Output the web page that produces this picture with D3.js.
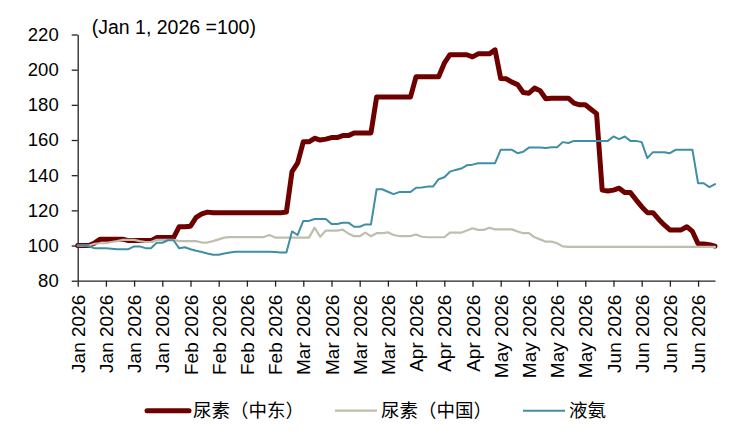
<!DOCTYPE html>
<html>
<head>
<meta charset="utf-8">
<script src="https://cdn.jsdelivr.net/npm/d3@7"></script>
<style>
  body { margin: 0; background: #fff; }
  text { font-family: "Liberation Sans", Arial, sans-serif; fill: #000; }
</style>
</head>
<body>
<svg id="chart" width="733" height="444"></svg>
<script>
// tick labels, one every 5 points
var tickLabels = [
  "Jan 2026", "Jan 2026", "Jan 2026", "Jan 2026",
  "Feb 2026", "Feb 2026", "Feb 2026", "Feb 2026",
  "Mar 2026", "Mar 2026", "Mar 2026", "Mar 2026",
  "Apr 2026", "Apr 2026", "Apr 2026",
  "May 2026", "May 2026", "May 2026", "May 2026",
  "Jun 2026", "Jun 2026", "Jun 2026", "Jun 2026"
];
var yTicks = [80, 100, 120, 140, 160, 180, 200, 220];
var seriesNames = ["尿素（中东）", "尿素（中国）", "液氨"];

// index values (Jan 1, 2026 = 100)
var ureaME = [
  100, 100, 100, 101.5, 103.6, 103.6, 103.6, 103.6, 103.6, 102.8,
  102.8, 102.8, 102.8, 102.8, 104.5, 104.5, 104.5, 104.5, 110.7, 110.7,
  111, 116, 118, 119, 118.7, 118.7, 118.7, 118.7, 118.7, 118.7,
  118.7, 118.7, 118.7, 118.7, 118.7, 118.7, 118.7, 119, 142, 147,
  159, 159, 161, 160, 160.5, 161.4, 161.4, 162.5, 162.5, 164,
  164, 164, 164, 184.4, 184.4, 184.4, 184.4, 184.4, 184.4, 184.4,
  196, 196, 196, 196, 196, 203.7, 208.5, 208.5, 208.5, 208.5,
  207.3, 209, 209, 209, 211.3, 195, 194.8, 192.9, 191.5, 187,
  186.6, 189.5, 188, 183.5, 183.8, 183.8, 183.8, 183.8, 181, 180,
  180, 177.5, 175, 131.5, 131, 131.5, 132.6, 130.1, 130.1, 126,
  122.1, 118.7, 118.7, 115, 111.7, 108.9, 108.9, 108.9, 110.7, 108,
  101, 100.9, 100.5, 99.7
];
var ureaCN = [
  100, 100, 100, 101, 101.3, 101.3, 102, 102.5, 103.2, 103.2,
  103.2, 102.5, 102, 102, 103.2, 103.2, 103.2, 103.2, 102.5, 102.5,
  102.5, 102.5, 101.7, 101.7, 102.5, 103.5, 104.5, 104.8, 104.8, 104.8,
  104.8, 104.8, 104.8, 104.8, 106, 104.5, 104.5, 104.5, 104.5, 104.5,
  104.5, 104.5, 110.2, 105, 108.5, 108.5, 108.5, 109, 106.8, 105.3,
  105.3, 107.3, 105.3, 107, 107, 107.5, 106, 105.4, 105.4, 105.4,
  106.3, 105, 104.7, 104.7, 104.7, 104.7, 107.3, 107.3, 107.3, 108.5,
  109.8, 108.9, 108.9, 110.1, 109.2, 109.2, 109.2, 109.2, 108, 107,
  107, 104.7, 103.5, 102.2, 102.2, 101.3, 99.5, 99.2, 99.2, 99.2,
  99.2, 99.2, 99.2, 99.2, 99.2, 99.2, 99.2, 99.2, 99.2, 99.2,
  99.2, 99.2, 99.2, 99.2, 99.2, 99.2, 99.2, 99.2, 99.2, 99.2,
  99.2, 99.2, 99.2, 99.2
];
var ammonia = [
  100, 100, 99.5, 98.4, 98.4, 98.4, 98.2, 97.9, 97.9, 97.9,
  99.5, 99.5, 98.5, 98.5, 101.6, 101.6, 103, 103, 98.4, 99,
  97.9, 97, 96.3, 95.5, 94.8, 94.8, 95.5, 96, 96.5, 96.5,
  96.5, 96.5, 96.5, 96.5, 96.5, 96.3, 96.1, 96.1, 108, 106,
  114, 114, 115.1, 115.1, 115.1, 112.2, 112.2, 113, 113, 110.7,
  110.7, 112, 112, 132, 132, 130.6, 129.2, 130.4, 130.4, 130.4,
  132.9, 133, 133.5, 133.5, 137.7, 138.8, 142, 143, 143.8, 145.6,
  146, 146.8, 146.8, 146.8, 146.8, 154.4, 154.4, 154.4, 152.5, 153.3,
  155.7, 155.7, 155.7, 155.5, 155.9, 155.9, 158.8, 158.3, 159.5, 159.5,
  159.5, 159.5, 159.5, 159.5, 159.5, 162, 160.5, 162, 159.5, 159.5,
  158.8, 149.7, 153.1, 153.1, 153.1, 152.5, 154.4, 154.4, 154.4, 154.4,
  135.4, 135.4, 133.2, 134.9
];

var series = [ureaME, ureaCN, ammonia];
var colors = ["#6f0000", "#bfbeae", "#3f8ea5"];
var widths = [5, 2.2, 2];

var svg = d3.select("#chart");

var x = d3.scaleLinear().domain([0, ureaME.length - 1]).range([77.7, 715]);
var y = d3.scaleLinear().domain([80, 220]).range([280.7, 34.5]);

// y axis
var yAxis = svg.append("g")
    .attr("transform", "translate(77.7,0)")
    .call(d3.axisLeft(y).tickValues(yTicks).tickSize(6).tickPadding(13).tickSizeOuter(0));
yAxis.selectAll("text").style("font-size", "18.5px");

// x axis
var xAxis = svg.append("g")
    .attr("transform", "translate(0,280.7)")
    .call(d3.axisBottom(x)
      .tickValues(d3.range(0, tickLabels.length * 5, 5))
      .tickFormat(function(d, i) { return tickLabels[i]; })
      .tickSize(6).tickSizeOuter(0));
xAxis.selectAll("text")
    .style("font-size", "19px")
    .attr("transform", "rotate(-90)")
    .attr("text-anchor", "end")
    .attr("x", -14)
    .attr("y", 0)
    .attr("dy", "0.35em");

svg.selectAll(".domain, .tick line").attr("stroke", "#222").attr("stroke-width", 1.3);

svg.append("text")
    .attr("x", 91.7).attr("y", 34)
    .style("font-size", "19.5px")
    .text("(Jan 1, 2026 =100)");

// lines
var line = d3.line()
    .x(function(d, i) { return x(i); })
    .y(function(d) { return y(d); });

svg.selectAll(".series")
    .data(series)
  .enter().append("path")
    .attr("class", "series")
    .attr("d", line)
    .attr("fill", "none")
    .attr("stroke", function(d, i) { return colors[i]; })
    .attr("stroke-width", function(d, i) { return widths[i]; })
    .attr("stroke-linejoin", "round")
    .attr("stroke-linecap", "round");

// legend
var lx = 147;
seriesNames.forEach(function(name, i) {
  svg.append("line")
      .attr("x1", lx).attr("x2", lx + 42)
      .attr("y1", 410.7).attr("y2", 410.7)
      .attr("stroke", colors[i])
      .attr("stroke-width", widths[i])
      .attr("stroke-linecap", i == 0 ? "round" : "butt");
  var t = svg.append("text")
      .attr("x", lx + 46).attr("y", 410.7)
      .attr("dy", "0.36em")
      .style("font-family", "'Noto Sans CJK SC', sans-serif")
      .style("font-size", "18.5px")
      .text(name);
  lx += 46 + t.node().getComputedTextLength() + 31;
});
</script>
</body>
</html>
